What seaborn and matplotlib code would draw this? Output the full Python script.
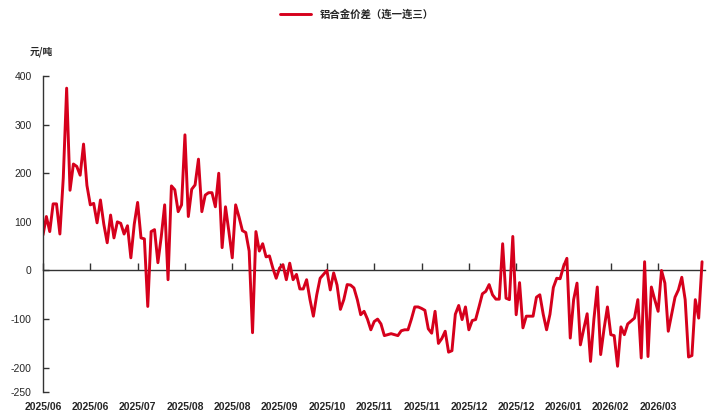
import numpy as np
import pandas as pd
import matplotlib
matplotlib.use("Agg")
import matplotlib.pyplot as plt
import seaborn as sns

# 铝合金价差（连一连三），元/吨，按交易日顺序
spread = [
    73, 111, 80, 137, 137, 75, 190, 375, 165, 219,
    214, 196, 260, 175, 135, 138, 98, 145, 95, 57,
    114, 67, 100, 97, 75, 92, 26, 95, 140, 67,
    65, -74, 80, 84, 16, 70, 135, -19, 174, 166,
    121, 135, 279, 111, 167, 176, 229, 121, 155, 160,
    160, 131, 200, 47, 131, 80, 26, 135, 110, 82,
    78, 40, -128, 80, 40, 55, 28, 30, 5, -16,
    5, 12, -19, 15, -19, -8, -38, -38, -19, -60,
    -94, -50, -16, -8, 0, -40, -5, -30, -80, -60,
    -29, -30, -36, -60, -91, -84, -100, -122, -105, -100,
    -110, -134, -132, -130, -132, -134, -124, -122, -122, -100,
    -75, -75, -78, -82, -120, -129, -84, -150, -140, -125,
    -168, -165, -90, -72, -101, -75, -122, -103, -101, -75,
    -48, -43, -29, -50, -59, -59, 55, -57, -60, 70,
    -91, -25, -118, -94, -94, -94, -55, -50, -90, -122,
    -90, -35, -16, -17, 8, 25, -139, -60, -26, -153,
    -120, -89, -187, -100, -34, -173, -120, -75, -132, -134,
    -197, -116, -132, -110, -104, -98, -60, -180, 18, -177,
    -34, -60, -84, 0, -26, -125, -90, -55, -40, -14,
    -60, -178, -175, -60, -98, 18,
]

tick_labels = [
    "2025/06", "2025/06", "2025/07", "2025/08", "2025/08", "2025/09", "2025/10",
    "2025/11", "2025/11", "2025/12", "2025/12", "2026/01", "2026/02", "2026/03",
]
tick_step = 14
y_ticks = [-250, -200, -100, 0, 100, 200, 300, 400]

df = pd.DataFrame({"day": np.arange(len(spread)), "spread": spread})

sns.set_theme(style="white")
plt.rcParams["font.family"] = ["Liberation Sans", "Noto Sans CJK SC", "DejaVu Sans"]
plt.rcParams["axes.unicode_minus"] = False

fig = plt.figure(figsize=(7.07, 4.12), dpi=100)
ax = fig.add_axes([0.0608, 0.0485, 0.937, 0.767])

red = "#D6001C"
sns.lineplot(data=df, x="day", y="spread", ax=ax, color=red, linewidth=2.1,
             label="铝合金价差（连一连三）")
ax.lines[0].set_solid_joinstyle("round")

ax.set_xlim(0, 196)
ax.set_ylim(-250, 400)
ax.set_xlabel("")
ax.set_ylabel("")

for side in ["top", "right", "bottom"]:
    ax.spines[side].set_visible(False)
ax.spines["left"].set_color("#333333")
ax.spines["left"].set_linewidth(1.0)

ax.set_yticks(y_ticks)
ax.tick_params(axis="y", direction="in", length=4, width=1.0, color="#333333",
               labelsize=7.5, pad=8, left=True)

xt = np.arange(len(tick_labels)) * tick_step
ax.set_xticks(xt)
ax.set_xticklabels(tick_labels, fontsize=7.5, fontweight="bold")
ax.tick_params(axis="x", length=0, pad=7)

# 零轴及其刻度
zero = ax.secondary_xaxis(0, transform=ax.transData)
zero.spines["bottom"].set_color("#333333")
zero.spines["bottom"].set_linewidth(1.0)
zero.set_xticks(xt)
zero.tick_params(axis="x", direction="in", length=5, width=1.0, color="#333333",
                 labelbottom=False)

fig.text(0.042, 0.868, "元/吨", fontsize=7, fontweight="bold",
         family=["Noto Sans CJK SC", "DejaVu Sans"])

leg = ax.legend(loc="upper center", bbox_to_anchor=(0.505, 1.0),
                bbox_transform=fig.transFigure, frameon=False,
                handlelength=3.0, prop={"family": ["Noto Sans CJK SC", "DejaVu Sans"],
                                       "size": 7.5, "weight": "bold"})

fig.savefig("out.png", dpi=100)
plt.close(fig)
